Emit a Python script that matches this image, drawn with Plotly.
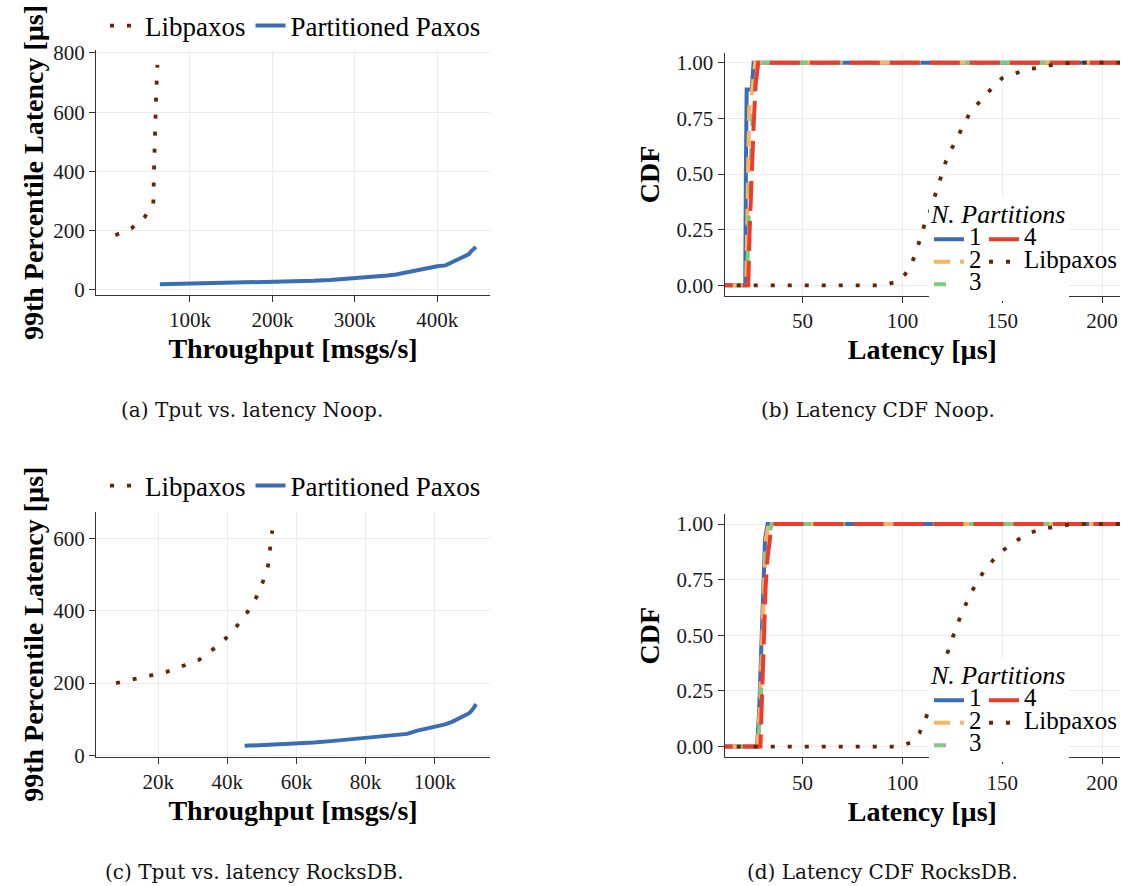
import plotly.graph_objects as go

# ---------------- data ----------------
# (a) Throughput vs 99th latency, Noop
a_lib_x = [9500, 29000, 44500, 55500, 56500, 57500, 59000, 60500]
a_lib_y = [185, 208, 244, 289, 420, 560, 660, 760]
a_pp_x = [63500, 100000, 150000, 200000, 250000, 270000, 300000, 320000, 340000, 350000,
          360000, 370000, 380000, 390000, 400000, 410000, 420000, 430000, 438000, 442000, 447000]
a_pp_y = [19, 21, 24, 27, 31, 34, 39, 44, 49, 52, 58, 62, 68, 74, 80, 83, 96, 110, 120, 133, 145]

# (c) Throughput vs 99th latency, RocksDB
c_lib_x = [7800, 12700, 17500, 22400, 27000, 31800, 35700, 39500, 42800, 45800, 48400, 50300, 51800, 52500, 53000]
c_lib_y = [200, 211, 221, 231, 247, 264, 292, 323, 358, 396, 437, 480, 525, 573, 621]
c_pp_x = [45000, 50000, 55000, 60000, 65000, 70000, 75000, 80000, 85000, 90000, 92000, 95000,
          100000, 103000, 105000, 107000, 110000, 111000, 112000]
c_pp_y = [27, 29, 31, 34, 36, 40, 44, 48, 52, 57, 60, 69, 79, 86, 93, 103, 117, 128, 142]

# (b) Latency CDF, Noop
b_p1_x = [0, 21.3, 21.6, 22.0, 24.5, 25.0, 25.5, 250]
b_p1_y = [0, 0, 0.5, 0.88, 0.88, 0.95, 1, 1]
b_p2_x = [0, 21.8, 22.5, 23.3, 24.5, 25.5, 26.3, 250]
b_p2_y = [0, 0, 0.4, 0.8, 0.86, 0.95, 1, 1]
b_p3_x = [0, 22.2, 23.0, 24.0, 25.0, 26.0, 27.0, 250]
b_p3_y = [0, 0, 0.3, 0.6, 0.78, 0.88, 1, 1]
b_p4_x = [0, 22.8, 23.5, 24.5, 25.5, 26.5, 27.8, 250]
b_p4_y = [0, 0, 0.25, 0.55, 0.72, 0.9, 1, 1]
b_lib_x = [0, 90, 97.2, 101.4, 104.7, 106.9, 108.9, 111, 113.4, 115.5, 117.5, 119.5, 121.9, 124.5,
           127.4, 130.5, 133.5, 137.2, 141, 145.3, 149.8, 155.5, 162.2, 169.7, 178, 185.6, 250]
b_lib_y = [0, 0, 0.016, 0.05, 0.1, 0.15, 0.21, 0.27, 0.32, 0.38, 0.44, 0.5, 0.56, 0.61,
           0.66, 0.71, 0.77, 0.81, 0.85, 0.89, 0.93, 0.95, 0.97, 0.98, 0.995, 1, 1]

# (d) Latency CDF, RocksDB
d_p1_x = [0, 27.2, 28.2, 29.2, 30.2, 31.2, 32.5, 250]
d_p1_y = [0, 0, 0.15, 0.45, 0.75, 0.93, 1, 1]
d_p2_x = [0, 27.4, 28.5, 29.5, 30.5, 31.5, 33.0, 250]
d_p2_y = [0, 0, 0.15, 0.43, 0.72, 0.92, 1, 1]
d_p3_x = [0, 27.6, 28.8, 29.8, 30.8, 32.0, 34.5, 250]
d_p3_y = [0, 0, 0.15, 0.4, 0.7, 0.9, 1, 1]
d_p4_x = [0, 28.9, 29.6, 30.5, 31.5, 32.5, 34.0, 36.3, 250]
d_p4_y = [0, 0, 0.2, 0.5, 0.72, 0.85, 0.96, 1, 1]
d_lib_x = [0, 98, 104.7, 108.5, 111.4, 113.9, 115.9, 118, 120.2, 122.2, 124.4, 126.7, 128.9, 131.7,
           134.2, 137.7, 140.9, 144.7, 148.5, 153.4, 158, 163.9, 170.5, 178.9, 185.4, 250]
d_lib_y = [0, 0, 0.02, 0.06, 0.12, 0.18, 0.23, 0.3, 0.36, 0.42, 0.47, 0.53, 0.58, 0.64,
           0.69, 0.74, 0.79, 0.83, 0.87, 0.9, 0.93, 0.96, 0.98, 0.99, 1, 1]

a_xticks = [100000, 200000, 300000, 400000]
a_xtext = ["100k", "200k", "300k", "400k"]
a_yticks = [0, 200, 400, 600, 800]
c_xticks = [20000, 40000, 60000, 80000, 100000]
c_xtext = ["20k", "40k", "60k", "80k", "100k"]
c_yticks = [0, 200, 400, 600]
cdf_xticks = [50, 100, 150, 200]
cdf_yticks = [0, 0.25, 0.5, 0.75, 1.0]
cdf_ytext = ["0.00", "0.25", "0.50", "0.75", "1.00"]

captions = ["(a) Tput vs. latency Noop.", "(b) Latency CDF Noop.",
            "(c) Tput vs. latency RocksDB.", "(d) Latency CDF RocksDB."]

# ---------------- style ----------------
W, H = 1126, 886
SERIF = "Liberation Serif"
BLUE = "#3a6db4"
ORANGE = "#fdb462"
GREEN = "#80c97e"
RED = "#ef3b2c"
BROWN = "#662506"
DOT = "4px,13px"
BIG = 25


def px_x(p):
    return p / W


def px_y(p):
    return 1 - p / H


def leg_text(t):
    return f"<span style='font-size:{BIG}px'>{t}</span>"


fig = go.Figure()

# Panel a
fig.add_trace(go.Scatter(x=a_lib_x, y=a_lib_y, mode="lines", name="Libpaxos",
                         line=dict(color=BROWN, width=3.8, dash=DOT),
                         xaxis="x", yaxis="y", legend="legend"))
fig.add_trace(go.Scatter(x=a_pp_x, y=a_pp_y, mode="lines", name="Partitioned Paxos",
                         line=dict(color=BLUE, width=4),
                         xaxis="x", yaxis="y", legend="legend"))
# Panel c
fig.add_trace(go.Scatter(x=c_lib_x, y=c_lib_y, mode="lines", name="Libpaxos",
                         line=dict(color=BROWN, width=3.8, dash=DOT),
                         xaxis="x3", yaxis="y3", legend="legend2"))
fig.add_trace(go.Scatter(x=c_pp_x, y=c_pp_y, mode="lines", name="Partitioned Paxos",
                         line=dict(color=BLUE, width=4),
                         xaxis="x3", yaxis="y3", legend="legend2"))


def cdf_panel(xa, ya, p1, p2, p3, p4, lib, lg1, lg2):
    specs = [
        (p1, "1", BLUE, "solid", lg1, 1),
        (p2, "2", ORANGE, "16px,10px", lg1, 2),
        (p3, "3", GREEN, "12px,22px", lg1, 3),
        (p4, "4", RED, "30px,10px", lg2, 1),
    ]
    for (xs, ys), nm, col, dash, lg, rank in specs:
        fig.add_trace(go.Scatter(x=xs, y=ys, mode="lines", name=leg_text(nm),
                                 line=dict(color=col, width=4, dash=dash),
                                 xaxis=xa, yaxis=ya, legend=lg, legendrank=rank))
    fig.add_trace(go.Scatter(x=lib[0], y=lib[1], mode="lines", name=leg_text("Libpaxos"),
                             line=dict(color=BROWN, width=3.8, dash=DOT),
                             xaxis=xa, yaxis=ya, legend=lg2, legendrank=2))


cdf_panel("x2", "y2", (b_p1_x, b_p1_y), (b_p2_x, b_p2_y), (b_p3_x, b_p3_y), (b_p4_x, b_p4_y),
          (b_lib_x, b_lib_y), "legend3", "legend4")
cdf_panel("x4", "y4", (d_p1_x, d_p1_y), (d_p2_x, d_p2_y), (d_p3_x, d_p3_y), (d_p4_x, d_p4_y),
          (d_lib_x, d_lib_y), "legend5", "legend6")

AX = dict(showline=True, linecolor="#333333", linewidth=1.3, ticks="outside", ticklen=6,
          tickcolor="#333333", tickwidth=1.2, showgrid=True, gridcolor="#ebebeb", gridwidth=1,
          zeroline=False, tickfont=dict(family=SERIF, size=21, color="#1a1a1a"),
          title_font=dict(family=SERIF, size=28, color="#000000"))

left_dom = [px_x(96), px_x(490)]
right_dom = [px_x(724.7), px_x(1120)]
top_dom_a = [px_y(295), px_y(50)]
top_dom_b = [px_y(296), px_y(52.7)]
bot_dom_c = [px_y(756.7), px_y(511.7)]
bot_dom_d = [px_y(757.3), px_y(514)]

fig.update_layout(
    xaxis=dict(AX, domain=left_dom, anchor="y", range=[-14000, 464000],
               tickvals=a_xticks, ticktext=a_xtext,
               title=dict(text="<b>Throughput [msgs/s]</b>", standoff=7)),
    yaxis=dict(AX, domain=top_dom_a, anchor="x", range=[-17, 810], tickvals=a_yticks,
               title=dict(text="<b>99th Percentile Latency [µs]</b>", standoff=1)),
    xaxis2=dict(AX, domain=right_dom, anchor="y2", range=[11, 209], tickvals=cdf_xticks,
                title=dict(text="<b>Latency [µs]</b>", standoff=7)),
    yaxis2=dict(AX, domain=top_dom_b, anchor="x2", range=[-0.048, 1.045],
                tickvals=cdf_yticks, ticktext=cdf_ytext,
                title=dict(text="<b>CDF</b>", standoff=8)),
    xaxis3=dict(AX, domain=left_dom, anchor="y3", range=[2000, 116000],
                tickvals=c_xticks, ticktext=c_xtext,
                title=dict(text="<b>Throughput [msgs/s]</b>", standoff=7)),
    yaxis3=dict(AX, domain=bot_dom_c, anchor="x3", range=[-3, 673], tickvals=c_yticks,
                title=dict(text="<b>99th Percentile Latency [µs]</b>", standoff=1)),
    xaxis4=dict(AX, domain=right_dom, anchor="y4", range=[11, 209], tickvals=cdf_xticks,
                title=dict(text="<b>Latency [µs]</b>", standoff=7)),
    yaxis4=dict(AX, domain=bot_dom_d, anchor="x4", range=[-0.048, 1.045],
                tickvals=cdf_yticks, ticktext=cdf_ytext,
                title=dict(text="<b>CDF</b>", standoff=8)),
)

HLEG = dict(orientation="h", xanchor="right", yanchor="middle", bgcolor="rgba(0,0,0,0)",
            font=dict(family=SERIF, size=27, color="#000000"), itemwidth=30,
            tracegroupgap=0, traceorder="normal")
VLEG = dict(orientation="v", xanchor="left", yanchor="top", bgcolor="#ffffff",
            font=dict(family=SERIF, size=15, color="#000000"), itemwidth=30,
            tracegroupgap=0, traceorder="normal", borderwidth=0)
TITLE = dict(text=f"<span style='font-size:{BIG + 1}px'><i>N. Partitions</i></span>",
             font=dict(family=SERIF, size=20, color="#000000"))

fig.update_layout(
    legend=dict(HLEG, x=px_x(486), y=px_y(26)),
    legend2=dict(HLEG, x=px_x(486), y=px_y(486)),
    legend3=dict(VLEG, x=px_x(929), y=px_y(197), title=TITLE),
    legend4=dict(VLEG, x=px_x(984), y=px_y(223), bgcolor="rgba(0,0,0,0)"),
    legend5=dict(VLEG, x=px_x(929), y=px_y(658), title=TITLE),
    legend6=dict(VLEG, x=px_x(984), y=px_y(684), bgcolor="rgba(0,0,0,0)"),
)

cap_pos = [(252, 410), (878, 410), (254, 872), (882, 872)]
for txt, (cx, cy) in zip(captions, cap_pos):
    fig.add_annotation(text=txt, x=px_x(cx), y=px_y(cy), xref="paper", yref="paper",
                       xanchor="center", yanchor="middle", showarrow=False,
                       font=dict(family="DejaVu Serif", size=20, color="#111111"))

fig.update_layout(width=W, height=H, margin=dict(l=0, r=0, t=0, b=0, autoexpand=False),
                  paper_bgcolor="white", plot_bgcolor="white", showlegend=True,
                  font=dict(family=SERIF))

fig.write_html("out.html", config={"displayModeBar": False},
               post_script="document.body.style.margin='0px';")
